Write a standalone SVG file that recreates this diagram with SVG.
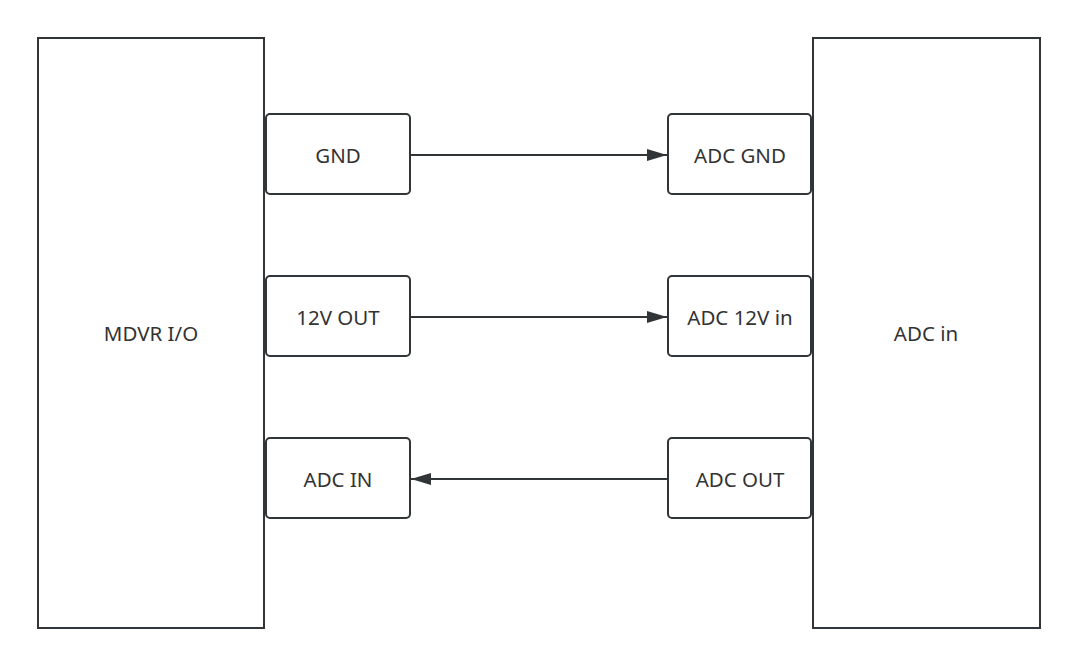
<svg xmlns="http://www.w3.org/2000/svg" width="1077" height="666" viewBox="0 0 1077 666">
<style>
.big{fill:#fff;stroke:#323537;stroke-width:2}
.sm{fill:#fff;stroke:#323537;stroke-width:2}
.t{font-family:"Noto Sans","Open Sans","DejaVu Sans",sans-serif;font-size:20.5px;fill:#333;text-anchor:middle;dominant-baseline:central}
.c{stroke:#323537;stroke-width:2;fill:none}
</style>
<defs>
<marker id="ah" viewBox="0 0 20 12" refX="20" refY="6" markerWidth="20" markerHeight="12" markerUnits="userSpaceOnUse" orient="auto">
<path d="M0,0 L20,6 L0,12 Z" fill="#323537"/>
</marker>
</defs>
<rect width="1077" height="666" fill="#fff"/>
<g id="mdvr"><rect class="big" x="38" y="38" width="226" height="590"/><text class="t" x="151" y="333">MDVR I/O</text></g>
<g id="adcin"><rect class="big" x="813" y="38" width="227" height="590"/><text class="t" x="926" y="333">ADC in</text></g>
<g id="gnd"><rect class="sm" x="266" y="114" width="144" height="80" rx="4"/><text class="t" x="338" y="155">GND</text></g>
<g id="v12out"><rect class="sm" x="266" y="276" width="144" height="80" rx="4"/><text class="t" x="338" y="317">12V OUT</text></g>
<g id="adcIN"><rect class="sm" x="266" y="438" width="144" height="80" rx="4"/><text class="t" x="338" y="479">ADC IN</text></g>
<g id="adcgnd"><rect class="sm" x="668" y="114" width="143" height="80" rx="4"/><text class="t" x="740" y="155">ADC GND</text></g>
<g id="adc12"><rect class="sm" x="668" y="276" width="143" height="80" rx="4"/><text class="t" x="740" y="317">ADC 12V in</text></g>
<g id="adcout"><rect class="sm" x="668" y="438" width="143" height="80" rx="4"/><text class="t" x="740" y="479">ADC OUT</text></g>
<g id="connectors">
<line class="c" x1="411" y1="155" x2="667" y2="155" marker-end="url(#ah)"/>
<line class="c" x1="411" y1="317" x2="667" y2="317" marker-end="url(#ah)"/>
<line class="c" x1="667" y1="479" x2="411" y2="479" marker-end="url(#ah)"/>
</g>
</svg>
